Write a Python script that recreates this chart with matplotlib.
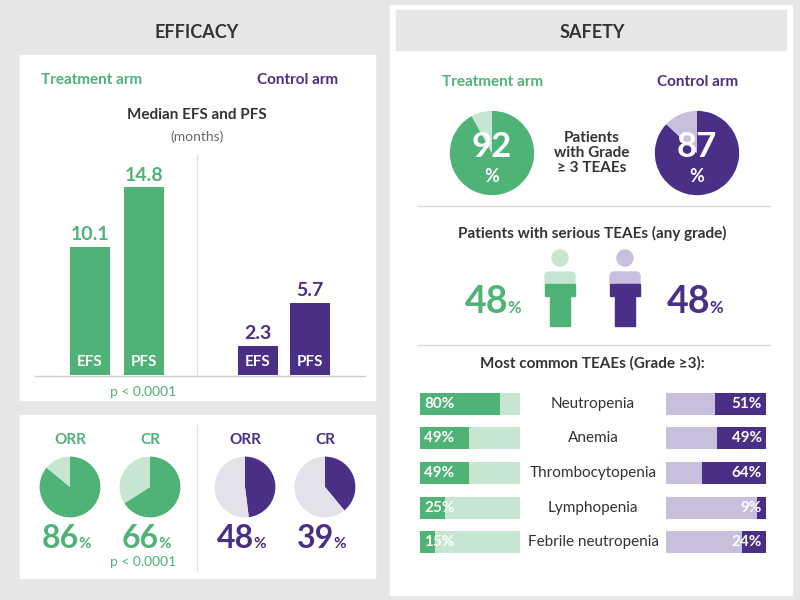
import matplotlib
matplotlib.use("Agg")
import matplotlib.pyplot as plt
from matplotlib.patches import Rectangle, Circle, FancyBboxPatch

plt.rcParams['font.family'] = ['Lato', 'DejaVu Sans']

# ---- data ----
bar_labels = ["EFS", "PFS"]
treat_months = [10.1, 14.8]
control_months = [2.3, 5.7]
resp_labels = ["ORR", "CR"]
treat_resp = [86, 66]
control_resp = [48, 39]
grade3_treat, grade3_control = 92, 87
serious_treat, serious_control = 48, 48
teae_names = ["Neutropenia", "Anemia", "Thrombocytopenia", "Lymphopenia", "Febrile neutropenia"]
teae_treat = [80, 49, 49, 25, 15]
teae_control = [51, 49, 64, 9, 24]

G = "#4fb276"; LG = "#c6e6d2"; P = "#4b2e85"; LP = "#c8bfdc"; PG = "#e3e1ea"
TXT = "#333333"; BG = "#e6e6e8"

W, H = 800, 600
fig = plt.figure(figsize=(8, 6), dpi=100, facecolor=BG)
base = fig.add_axes([0, 0, 1, 1]); base.set_xlim(0, W); base.set_ylim(H, 0); base.axis('off')

def pax(x, y, w, h):
    a = fig.add_axes([x / W, 1 - (y + h) / H, w / W, h / H]); a.axis('off'); return a

def rect(x, y, w, h, c, **k):
    base.add_patch(Rectangle((x, y), w, h, color=c, **k))

def txt(x, y, s, **k):
    k.setdefault('ha', 'center'); k.setdefault('va', 'center'); k.setdefault('color', TXT)
    base.text(x, y, s, **k)

def pct(x, y, num, color, big=23, small=11):
    base.text(x, y, str(num), ha='right', va='baseline', color=color, fontsize=big, fontweight='bold')
    base.text(x - 1, y, "%", ha='left', va='baseline', color=color, fontsize=small, fontweight='bold')

def pie(a, v, c1, c2):
    a.pie([v, 100 - v], colors=[c1, c2], startangle=90, counterclock=False,
          wedgeprops=dict(linewidth=0), radius=1)
    a.set_xlim(-1.02, 1.02); a.set_ylim(-1.02, 1.02); a.set_aspect('equal')

# panels
rect(390, 5, 402, 590, 'white')
rect(396, 10, 390, 40, BG)
rect(20, 55, 355, 345, 'white')
rect(20, 415, 355, 163, 'white')
rect(404, 55, 376, 535, 'white')
txt(197, 32, "EFFICACY", fontsize=13, fontweight='bold')
txt(592, 32, "SAFETY", fontsize=13, fontweight='bold')

# ---- efficacy bars ----
txt(92, 80, "Treatment arm", color=G, fontsize=11, fontweight='bold')
txt(298, 80, "Control arm", color=P, fontsize=11, fontweight='bold')
txt(197, 115, "Median EFS and PFS", fontsize=11, fontweight='bold')
txt(197, 137, "(months)", fontsize=10, color='#666666')
bx0, by0, bw, bh = 30, 150, 340, 225
ax = pax(bx0, by0, bw, bh)
ax.set_xlim(bx0, bx0 + bw); ax.set_ylim(0, bh / 12.67)
tpos = [90, 144]; cpos = [258, 310]
for pos, vals, c in ((tpos, treat_months, G), (cpos, control_months, P)):
    ax.bar(pos, vals, width=40, color=c)
    for p, v, l in zip(pos, vals, bar_labels):
        ax.text(p, v + 0.3, f"{v}", ha='center', va='bottom', color=c, fontsize=14, fontweight='bold')
        ax.text(p, 0.45, l, ha='center', va='bottom', color='white', fontsize=11, fontweight='bold')
base.plot([197, 197], [155, 375], color='#dddddd', lw=1)
base.plot([35, 365], [376, 376], color='#cccccc', lw=1)
txt(143, 392, "p < 0.0001", color=G, fontsize=10)

# ---- response pies ----
pie_x = [70, 150, 245, 325]
vals = treat_resp + control_resp
cols = [(G, LG)] * 2 + [(P, PG)] * 2
labs = resp_labels * 2
for cx, v, (c1, c2), l in zip(pie_x, vals, cols, labs):
    a = pax(cx - 31, 456, 62, 62)
    pie(a, v, c1, c2)
    txt(cx, 440, l, color=c1, fontsize=11, fontweight='bold')
    pct(cx + 9, 548, v, c1)
base.plot([197, 197], [425, 570], color='#dddddd', lw=1)
txt(143, 562, "p < 0.0001", color=G, fontsize=10)

# ---- safety ----
txt(493, 82, "Treatment arm", color=G, fontsize=11, fontweight='bold')
txt(698, 82, "Control arm", color=P, fontsize=11, fontweight='bold')
for cx, v, c1, c2 in ((492, grade3_treat, G, LG), (697, grade3_control, P, LP)):
    a = pax(cx - 43, 110, 86, 86)
    pie(a, v, c1, c2)
    a.text(0, 0.15, str(v), ha='center', va='center', color='white', fontsize=25, fontweight='bold')
    a.text(0, -0.55, "%", ha='center', va='center', color='white', fontsize=13, fontweight='bold')
txt(592, 153, "Patients\nwith Grade\n≥ 3 TEAEs", fontsize=11, fontweight='bold', linespacing=1.1)
base.plot([418, 770], [206, 206], color='#dddddd', lw=1)
txt(592, 233, "Patients with serious TEAEs (any grade)", fontsize=11, fontweight='bold')
for cx, c1, c2 in ((560, G, LG), (625, P, LP)):
    base.add_patch(Circle((cx, 258), 8, color=c2))
    base.add_patch(FancyBboxPatch((cx - 15, 272), 30, 14, boxstyle="round,pad=0,rounding_size=4", color=c2))
    base.add_patch(Rectangle((cx - 15, 284), 30, 12, color=c1))
    base.add_patch(Rectangle((cx - 10, 292), 20, 34, color=c1))
pct(508, 313, serious_treat, G, big=27, small=12)
pct(710, 313, serious_control, P, big=27, small=12)
base.plot([418, 770], [345, 345], color='#dddddd', lw=1)
txt(592, 363, "Most common TEAEs (Grade ≥3):", fontsize=11, fontweight='bold')

ra = pax(400, 385, 390, 175)
ra.set_xlim(400, 790); ra.set_ylim(560, 385)
ys = [404, 438, 473, 508, 542]
ra.barh(ys, [100] * 5, left=420, height=22, color=LG)
ra.barh(ys, teae_treat, left=420, height=22, color=G)
ra.barh(ys, [100] * 5, left=666, height=22, color=LP)
ra.barh(ys, teae_control, left=[766 - v for v in teae_control], height=22, color=P)
for y, n, t, c in zip(ys, teae_names, teae_treat, teae_control):
    ra.text(424, y, f"{t}%", ha='left', va='center', color='white', fontsize=11, fontweight='bold')
    ra.text(762, y, f"{c}%", ha='right', va='center', color='white', fontsize=11, fontweight='bold')
    ra.text(593, y, n, ha='center', va='center', color=TXT, fontsize=11)

fig.savefig("out.png", dpi=100, facecolor=BG)
